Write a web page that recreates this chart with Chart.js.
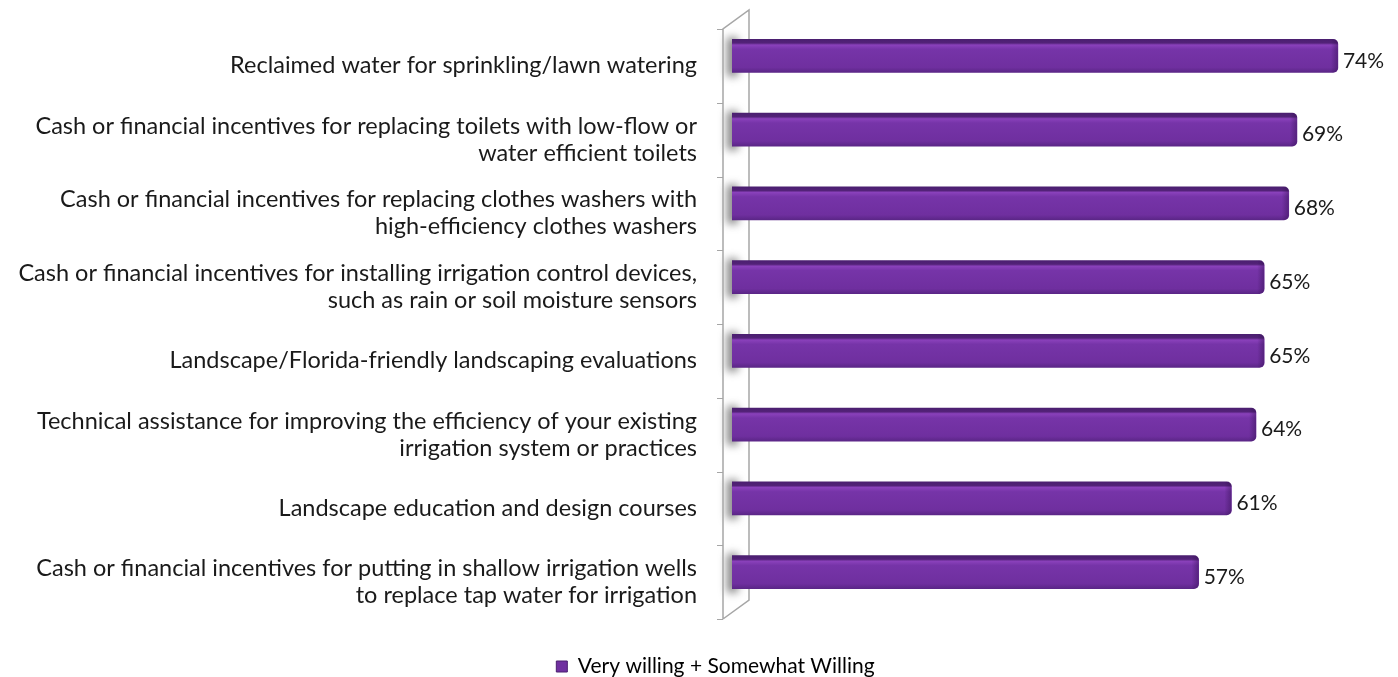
<!DOCTYPE html>
<html><head><meta charset="utf-8">
<script src="https://cdn.jsdelivr.net/npm/chart.js@4.4.1/dist/chart.umd.min.js"></script>
<style>html,body{margin:0;padding:0;background:#fff;overflow:hidden}#wrap{width:1398px;height:677px;position:relative}</style>
</head><body><div id="wrap"><canvas id="c"></canvas></div>
<script>
const categories = [
  ["Reclaimed water for sprinkling/lawn watering"],
  ["Cash or financial incentives for replacing toilets with low-flow or", "water efficient toilets"],
  ["Cash or financial incentives for replacing clothes washers with", "high-efficiency clothes washers"],
  ["Cash or financial incentives for installing irrigation control devices,", "such as rain or soil moisture sensors"],
  ["Landscape/Florida-friendly landscaping evaluations"],
  ["Technical assistance for improving the efficiency of your existing", "irrigation system or practices"],
  ["Landscape education and design courses"],
  ["Cash or financial incentives for putting in shallow irrigation wells", "to replace tap water for irrigation"]
];
const seriesName = "Very willing + Somewhat Willing";
const values = [74, 69, 68, 65, 65, 64, 61, 57];
const valueLabels = values.map(v => v + "%");

const FONT = "Lato, 'Open Sans', sans-serif";
const BAR_T = 33;
const SHIFT = -10;
const LEGEND_SHIFT = 22;

function barGradient(ctx) {
  const chart = ctx.chart;
  const ys = chart.scales && chart.scales.y;
  if (!ys || ctx.dataIndex === undefined) return '#7030a0';
  const yc = ys.getPixelForValue(ctx.dataIndex);
  const top = yc - BAR_T / 2, bot = yc + BAR_T / 2;
  const g = chart.ctx.createLinearGradient(0, top, 0, bot);
  g.addColorStop(0, '#4b1f70');
  g.addColorStop(0.11, '#532278');
  g.addColorStop(0.17, '#8a41bb');
  g.addColorStop(0.30, '#7634a8');
  g.addColorStop(0.85, '#6f2f9f');
  g.addColorStop(1, '#5b2687');
  return g;
}

const decor = {
  id: 'decor',
  afterLayout(chart) {
    const L = chart.legend;
    if (L) { L.left += LEGEND_SHIFT; L.right += LEGEND_SHIFT; if (L.adjustHitBoxes) L.adjustHitBoxes(); }
  },
  beforeDatasetsDraw(chart) {
    const c = chart.ctx, a = chart.chartArea;
    const xl = a.left - 9, xr = a.left + 17, dy = -19;
    c.save();
    c.beginPath();
    c.moveTo(xl, a.top); c.lineTo(xr, a.top + dy); c.lineTo(xr, a.bottom + dy); c.lineTo(xl, a.bottom); c.closePath();
    c.fillStyle = '#ffffff'; c.fill();
    const meta = chart.getDatasetMeta(0);
    c.filter = 'blur(4px)';
    meta.data.forEach(el => {
      const y = el.y + SHIFT;
      c.fillStyle = 'rgba(80,80,80,0.7)';
      c.fillRect(a.left - 5, y - BAR_T / 2 - 2, 11, BAR_T + 6);
    });
    c.filter = 'none';
    c.strokeStyle = '#a6a6a6'; c.lineWidth = 1.5;
    c.beginPath();
    c.moveTo(xl, a.bottom); c.lineTo(xl, a.top); c.lineTo(xr, a.top + dy); c.lineTo(xr, a.bottom + dy); c.lineTo(xl, a.bottom);
    c.stroke();
    c.lineWidth = 1;
    const n = categories.length, step = (a.bottom - a.top) / n;
    c.beginPath();
    for (let i = 0; i <= n; i++) {
      const y = Math.round(a.top + i * step) + 0.5;
      c.moveTo(xl - 6, y); c.lineTo(xl, y);
    }
    c.stroke();
    c.restore();
    c.save();
    c.translate(0, SHIFT);
  },
  afterDatasetsDraw(chart) {
    const c = chart.ctx;
    const meta = chart.getDatasetMeta(0);
    meta.data.forEach((el, i) => {
      const top = el.y - BAR_T / 2;
      const g = c.createLinearGradient(el.x - 7, 0, el.x, 0);
      g.addColorStop(0, 'rgba(50,15,80,0)');
      g.addColorStop(1, 'rgba(50,15,80,0.45)');
      c.fillStyle = g;
      c.beginPath();
      c.roundRect(el.x - 7, top, 7, BAR_T, [0, 5, 5, 0]);
      c.fill();
      c.fillStyle = '#1a1a1a';
      c.font = '21px ' + FONT;
      c.textAlign = 'left';
      c.textBaseline = 'middle';
      c.fillText(valueLabels[i], el.x + 5, el.y + 5);
    });
    c.restore();
  }
};

new Chart(document.getElementById('c'), {
  type: 'bar',
  data: {
    labels: categories,
    datasets: [{
      label: seriesName,
      data: values,
      backgroundColor: barGradient,
      borderWidth: 0,
      borderRadius: {topLeft: 0, bottomLeft: 0, topRight: 5, bottomRight: 5},
      borderSkipped: false,
      barThickness: BAR_T
    }]
  },
  options: {
    indexAxis: 'y',
    responsive: true,
    maintainAspectRatio: false,
    animation: false,
    layout: {padding: {top: 29, right: 11, left: 0, bottom: -10}},
    scales: {
      x: {
        min: 0, max: 80,
        display: true,
        grid: {display: false, drawTicks: false},
        border: {display: false},
        ticks: {display: false},
        afterFit(s) { s.height = 35; s.paddingLeft = 0; s.paddingRight = 0; }
      },
      y: {
        grid: {display: false, drawTicks: false},
        border: {display: false},
        ticks: {
          color: '#1a1a1a',
          padding: 35,
          font: {family: FONT, size: 23.5, lineHeight: 1.15}
        },
        afterFit(s) { s.width = 732; s.paddingTop = 0; s.paddingBottom = 0; }
      }
    },
    plugins: {
      legend: {
        position: 'bottom',
        labels: {
          padding: 2,
          boxWidth: 11,
          boxHeight: 11,
          color: '#1a1a1a',
          font: {family: FONT, size: 21},
          generateLabels() {
            return [{text: seriesName, fillStyle: '#7030a0', strokeStyle: '#4b1f70', lineWidth: 1, datasetIndex: 0, hidden: false}];
          }
        }
      },
      tooltip: {enabled: false}
    }
  },
  plugins: [decor]
});
</script>
</body></html>
